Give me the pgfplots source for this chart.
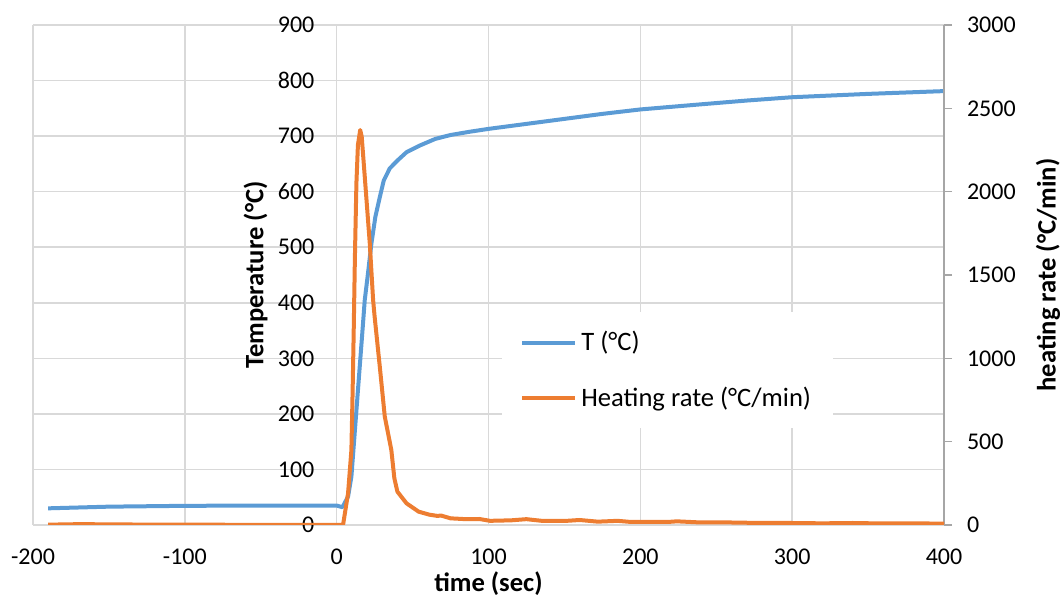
\documentclass[border=0pt]{standalone}
\usepackage{pgfplots}
\pgfplotsset{compat=1.18}
\usepackage{fontspec}
\setmainfont{Carlito}
\definecolor{tblue}{HTML}{5B9BD5}
\definecolor{torange}{HTML}{ED7D31}
\definecolor{gridgray}{HTML}{D9D9D9}
\definecolor{axisgray}{HTML}{A6A6A6}
\begin{document}
\begin{tikzpicture}
\begin{axis}[
  name=ax1,
  scale only axis, width=455.5pt, height=250pt,
  xmin=-200, xmax=400, ymin=0, ymax=900,
  xtick={-200,-100,0,100,200,300,400},
  xticklabels={-200,-100,0,100,200,300,400},
  ytick={0,100,200,300,400,500,600,700,800,900},
  yticklabels={0,100,200,300,400,500,600,700,800,900},
  grid=major, grid style={color=gridgray, line width=0.75pt},
  axis line style={draw=none},
  major tick length=0pt,
  tick label style={font=\fontsize{12}{14}\selectfont},
  xticklabel style={yshift=-8.5pt},
  yticklabel style={anchor=east, xshift=144.2pt},
  xlabel={\textbf{time (sec)}},
  xlabel style={at={([yshift=-29.3pt]axis description cs:0.5,0)}, anchor=center, font=\fontsize{13.3}{15}\selectfont},
  ylabel={\textbf{Temperature (°C)}},
  ylabel style={at={([xshift=-40.5pt]axis description cs:0.33333,0.5)}, anchor=center, font=\fontsize{13.3}{15}\selectfont},
]
\addplot[color=tblue, line width=2pt, line join=round] coordinates {
(-190,30) (-150,33) (-100,34.5) (-50,35) (0,35) (3.8,32) (7.5,51) (9.7,87)
(12,170) (14.5,260) (17,350) (18.5,405) (20.5,450) (22.9,507) (25.5,555)
(28.4,590) (31,620) (35,642) (40,656) (46,671) (54.7,683) (65,695) (75,702)
(88,708) (100,713) (125,722) (150,731) (175,740) (200,748) (239,757)
(270,764) (300,770) (350,776) (400,781)
};
\end{axis}
\begin{axis}[
  scale only axis, width=455.5pt, height=250pt,
  xmin=-200, xmax=400, ymin=0, ymax=3000,
  axis y line*=right, axis x line=none,
  ytick={0,500,1000,1500,2000,2500,3000},
  yticklabels={0,500,1000,1500,2000,2500,3000},
  y axis line style={draw=axisgray, line width=0.75pt},
  ytick style={draw=axisgray, line width=0.75pt},
  tick align=outside, major tick length=4pt,
  tick label style={font=\fontsize{12}{14}\selectfont},
  yticklabel style={anchor=west, xshift=4pt},
  ylabel={\textbf{heating rate (°C/min)}},
  ylabel style={at={([xshift=52pt]axis description cs:1,0.5)}, anchor=center, font=\fontsize{13.3}{15}\selectfont},
  legend cell align=left,
  legend image code/.code={\draw[#1] (0pt,0pt) -- (26.5pt,0pt);},
  legend style={draw=none, fill=white, at={(axis description cs:0.5148,0.426)}, anchor=north west,
    inner xsep=9pt, inner ysep=7.5pt, row sep=12.5pt,
    nodes={inner sep=2pt}, font=\fontsize{13.3}{15}\selectfont},
]
\addlegendimage{color=tblue, line width=2pt}
\addlegendentry{T (°C)}
\addplot[color=torange, line width=2pt, line join=round] coordinates {
(-190,2) (-170,5) (-150,4) (-120,2) (-100,2) (-50,1) (0,1) (4.2,0) (7.5,190)
(9.7,450) (10.5,800) (11.2,1150) (12,1600) (13,2050) (14,2280) (15.5,2370)
(16.5,2330) (18.5,2090) (21.8,1690) (24,1350) (25,1250) (28.4,950) (31.7,650)
(36,450) (38,280) (40,200) (46,130) (50,105) (54,80) (61,62) (66,55) (69,56)
(72,48) (75,40) (85,35) (94,36) (101,25) (115,28) (125,35) (135,25) (150,24)
(160,30) (172,20) (185,25) (194,18) (210,18) (218,18) (224,22) (240,15)
(260,15) (280,12) (300,12) (320,10) (340,12) (360,9) (380,10) (400,8)
};
\addlegendentry{Heating rate (°C/min)}
\end{axis}
\pgfresetboundingbox
\path ([shift={(-16.5pt,-36pt)}]ax1.south west) rectangle ([shift={(59pt,12.5pt)}]ax1.north east);
\end{tikzpicture}
\end{document}
